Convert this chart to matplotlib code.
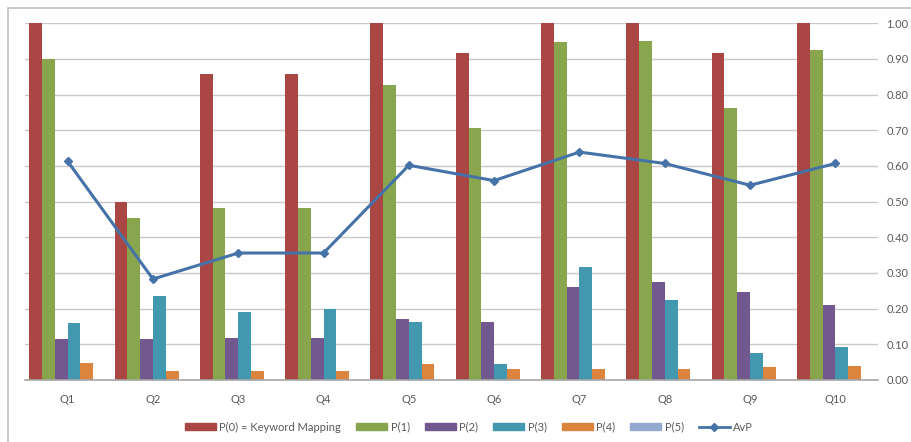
import numpy as np
import matplotlib
matplotlib.use('Agg')
from matplotlib import pyplot as plt
from matplotlib.patches import Rectangle
from matplotlib.lines import Line2D

plt.rcParams['font.family'] = ['Lato', 'DejaVu Sans']

questions = ['Q1', 'Q2', 'Q3', 'Q4', 'Q5', 'Q6', 'Q7', 'Q8', 'Q9', 'Q10']
p0 = [1.00, 0.50, 0.857, 0.857, 1.00, 0.917, 1.00, 1.00, 0.917, 1.00]
p1 = [0.90, 0.455, 0.482, 0.482, 0.826, 0.706, 0.947, 0.951, 0.762, 0.924]
p2 = [0.115, 0.115, 0.118, 0.118, 0.172, 0.163, 0.261, 0.275, 0.246, 0.209]
p3 = [0.160, 0.235, 0.192, 0.198, 0.163, 0.045, 0.316, 0.224, 0.075, 0.092]
p4 = [0.047, 0.026, 0.026, 0.026, 0.045, 0.031, 0.031, 0.030, 0.036, 0.039]
p5 = [0, 0, 0, 0, 0, 0, 0, 0, 0, 0]
avp = [0.613, 0.283, 0.356, 0.356, 0.602, 0.559, 0.639, 0.607, 0.546, 0.607]

series = [p0, p1, p2, p3, p4, p5]
names = ['P(0) = Keyword Mapping', 'P(1)', 'P(2)', 'P(3)', 'P(4)', 'P(5)']
colors = ['#AA4643', '#89A54E', '#71588F', '#4198AF', '#DB843D', '#93A9CF']
line_color = '#4572A7'
text_color = '#595959'

fig = plt.figure(figsize=(9.11, 4.42), dpi=100)
# outer chart border (cropped on right / bottom in the reference)
fig.patches.append(Rectangle((8 / 911, -0.1), 1.2, (442 - 8) / 442 + 0.1,
                             transform=fig.transFigure, fill=False,
                             edgecolor='#BFBFBF', linewidth=1.2))

ax = fig.add_axes([25 / 911, (442 - 380) / 442, (878 - 25) / 911, (380 - 23.3) / 442])

x = np.arange(len(questions))
width = 0.15
for i, vals in enumerate(series):
    ax.bar(x + (i - 2.5) * width, vals, width, color=colors[i], label=names[i], zorder=2)

ax.plot(x, avp, color=line_color, linewidth=2.2, marker='D', markersize=4.5, zorder=3, label='AvP')

ax.set_xlim(-0.5, len(questions) - 0.5)
ax.set_ylim(0, 1.0)
ax.set_yticks(np.arange(0, 1.01, 0.1))
ax.set_yticklabels(['%.2f' % v for v in np.arange(0, 1.01, 0.1)])
ax.yaxis.tick_right()
ax.tick_params(axis='y', length=0, pad=6, labelsize=8, labelcolor=text_color)
ax.set_xticks(x)
ax.set_xticklabels(questions)
ax.tick_params(axis='x', length=0, pad=10, labelsize=8, labelcolor=text_color)
ax.grid(axis='y', color='#C8C8C8', linewidth=1.0, zorder=0)
ax.set_axisbelow(True)
for side in ['top', 'left', 'right']:
    ax.spines[side].set_visible(False)
ax.spines['bottom'].set_color('#A6A6A6')
ax.spines['bottom'].set_linewidth(1.2)

handles = [Rectangle((0, 0), 1, 1, color=c) for c in colors]
handles.append(Line2D([], [], color=line_color, linewidth=2, marker='D', markersize=4.5))
leg = fig.legend(handles, names + ['AvP'], loc='center', bbox_to_anchor=(469 / 911, (442 - 427) / 442),
                 ncol=7, frameon=False, fontsize=8, handlelength=2.8, handleheight=0.55,
                 columnspacing=1.35, handletextpad=0.3)
for t in leg.get_texts():
    t.set_color(text_color)

fig.savefig('out.png', dpi=100)
